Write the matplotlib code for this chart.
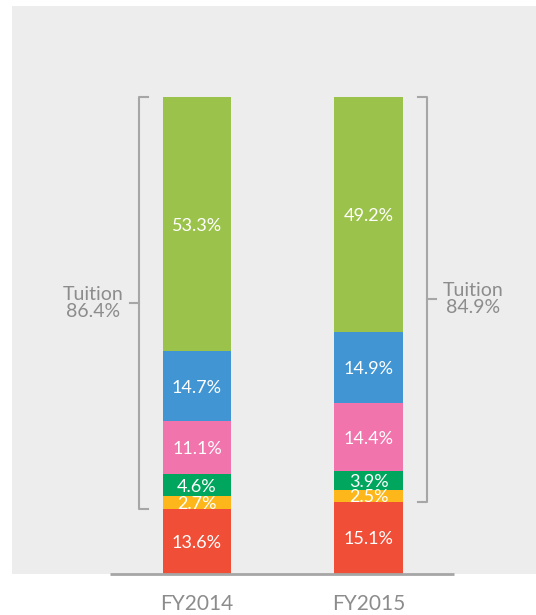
import matplotlib.pyplot as plt

plt.rcParams['font.family'] = ['Lato', 'DejaVu Sans']

years = ['FY2014', 'FY2015']
# stacked from bottom to top
other = [13.6, 15.1]
seg_yellow = [2.7, 2.5]
seg_dgreen = [4.6, 3.9]
seg_pink = [11.1, 14.4]
seg_blue = [14.7, 14.9]
seg_green = [53.3, 49.2]
tuition = [86.4, 84.9]

series = [other, seg_yellow, seg_dgreen, seg_pink, seg_blue, seg_green]
colors = ['#f04e37', '#fdb71a', '#00a65e', '#f174ac', '#4295d3', '#9bc34b']

W, H = 536, 615
fig = plt.figure(figsize=(W / 100, H / 100), dpi=100)
# gray panel: x 12..536 px, y 6..574 px
ax = fig.add_axes([12 / W, (H - 574) / H, (W - 12) / W, 568 / H])
ax.set_facecolor('#ededed')
for s in ax.spines.values():
    s.set_visible(False)
ax.set_xticks([])
ax.set_yticks([])

# bar centres at 0 and 1 -> 197 px and 368.5 px
step = 171.5
ax.set_xlim((12 - 197) / step, (536 - 197) / step)
ax.set_ylim(0, (574 - 6) / 4.77)

x = [0, 1]
bottoms = [0, 0]
for vals, c in zip(series, colors):
    ax.bar(x, vals, width=0.4, bottom=bottoms, color=c, linewidth=0)
    for i in range(2):
        ax.text(x[i], bottoms[i] + vals[i] / 2 - 0.3, f'{vals[i]}%', ha='center', va='center',
                color='white', fontsize=13)
    bottoms = [b + v for b, v in zip(bottoms, vals)]

# baseline
ax.plot([(110 - 197) / step, (454 - 197) / step], [0, 0], color='#a6a6a6', lw=2,
        clip_on=False, solid_capstyle='butt')

# tuition brackets
gray = '#a6a6a6'
tick = 9 / step
for i, side in enumerate([-1, 1]):
    xb = x[i] + side * (0.2 + 24 / step)
    lo, hi = other[i], 100
    ax.plot([xb - side * tick, xb, xb, xb - side * tick], [hi, hi, lo, lo], color=gray, lw=1.5)
    mid = (lo + hi) / 2
    ax.plot([xb, xb + side * tick], [mid, mid], color=gray, lw=1.5)
    ax.text(xb + side * 46 / step, mid, f'Tuition\n{tuition[i]}%', ha='center', va='center',
            color='#8c8c8c', fontsize=14, linespacing=1.0)

for i, lab in enumerate(years):
    ax.text(x[i], -6.3, lab, ha='center', va='center', color='#8c8c8c', fontsize=15,
            clip_on=False)

fig.savefig('out.png', dpi=100, facecolor='white')
